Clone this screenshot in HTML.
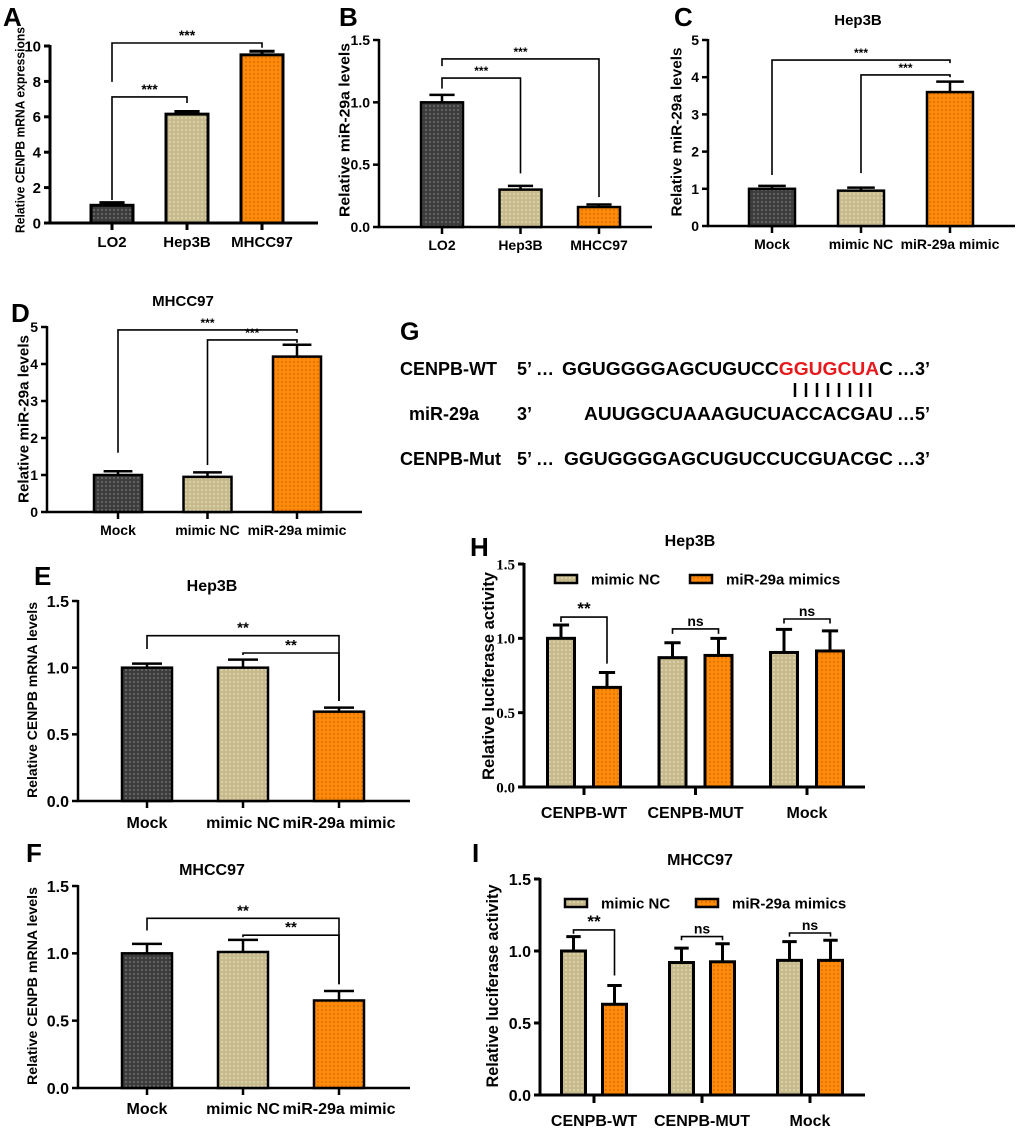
<!DOCTYPE html>
<html><head><meta charset="utf-8"><style>
html,body{margin:0;padding:0;background:#fff;}
svg{display:block;font-family:"Liberation Sans",Arial,sans-serif;font-weight:bold;}
</style></head><body>
<svg id="fig" width="1020" height="1132" viewBox="0 0 1020 1132" xmlns="http://www.w3.org/2000/svg">
<defs>
<pattern id="pDark" width="4" height="4" patternUnits="userSpaceOnUse"><rect width="4" height="4" fill="#3d3d3d"/><circle cx="2" cy="2" r="0.7" fill="#9a9a9a"/></pattern>
<pattern id="pKhaki" width="4" height="4" patternUnits="userSpaceOnUse"><rect width="4" height="4" fill="#c8bb8b"/><circle cx="2" cy="2" r="0.7" fill="#f2eee0"/></pattern>
<pattern id="pOrange" width="4" height="4" patternUnits="userSpaceOnUse"><rect width="4" height="4" fill="#ff8a0a"/><circle cx="2" cy="2" r="0.7" fill="#b85c00"/></pattern>
</defs>
<g id="seq" font-size="18">
<text x="400" y="340" font-size="25">G</text>
<text x="400" y="375">CENPB-WT</text>
<text x="517" y="375">5’ …</text>
<text x="562" y="375" textLength="331" lengthAdjust="spacingAndGlyphs">GGUGGGGAGCUGUCC<tspan fill="#e8191c">GGUGCUA</tspan>C</text>
<text x="897" y="375">…3’</text>
<g stroke="#000" stroke-width="2.5">
<line x1="795" y1="383" x2="795" y2="397"/><line x1="806" y1="383" x2="806" y2="397"/><line x1="817" y1="383" x2="817" y2="397"/><line x1="828" y1="383" x2="828" y2="397"/><line x1="839" y1="383" x2="839" y2="397"/><line x1="850" y1="383" x2="850" y2="397"/><line x1="861" y1="383" x2="861" y2="397"/><line x1="870" y1="383" x2="870" y2="397"/>
</g>
<text x="409" y="420">miR-29a</text>
<text x="517" y="420">3’</text>
<text x="584" y="420" textLength="309" lengthAdjust="spacingAndGlyphs">AUUGGCUAAAGUCUACCACGAU</text>
<text x="897" y="420">…5’</text>
<text x="400" y="465">CENPB-Mut</text>
<text x="517" y="465">5’ …</text>
<text x="564" y="465" textLength="329" lengthAdjust="spacingAndGlyphs">GGUGGGGAGCUGUCCUCGUACGC</text>
<text x="897" y="465">…3’</text>
</g>
</svg>
<script>
// ---- data ----
const catsAB = ["LO2", "Hep3B", "MHCC97"];
const catsMock = ["Mock", "mimic NC", "miR-29a mimic"];
const catsLuc = ["CENPB-WT", "CENPB-MUT", "Mock"];
const seriesLuc = ["mimic NC", "miR-29a mimics"];
const valsA = [1.0, 6.15, 9.5];      const errsA = [1.15, 6.3, 9.7];
const valsB = [1.0, 0.30, 0.16];     const errsB = [1.06, 0.33, 0.18];
const valsC = [1.0, 0.95, 3.6];      const errsC = [1.08, 1.03, 3.88];
const valsD = [1.0, 0.95, 4.2];      const errsD = [1.1, 1.07, 4.52];
const valsE = [1.0, 1.0, 0.67];      const errsE = [1.03, 1.06, 0.70];
const valsF = [1.0, 1.01, 0.65];     const errsF = [1.07, 1.10, 0.72];
const valsH_NC = [1.0, 0.87, 0.905]; const errsH_NC = [1.09, 0.97, 1.06];
const valsH_M = [0.67, 0.885, 0.915];const errsH_M = [0.77, 1.0, 1.05];
const valsI_NC = [1.0, 0.92, 0.935]; const errsI_NC = [1.10, 1.02, 1.065];
const valsI_M = [0.63, 0.925, 0.935];const errsI_M = [0.76, 1.05, 1.075];
const ticksA = [0, 2, 4, 6, 8, 10];
const ticks15 = [0, 0.5, 1.0, 1.5];
const ticks5 = [0, 1, 2, 3, 4, 5];

const NS = "http://www.w3.org/2000/svg";
const svg = document.getElementById("fig");
function mk(tag, attrs, parent) {
  const e = document.createElementNS(NS, tag);
  for (const k in attrs) e.setAttribute(k, attrs[k]);
  (parent || svg).appendChild(e);
  return e;
}
const fillsSimple = ["url(#pDark)", "url(#pKhaki)", "url(#pOrange)"];
const fillsLuc = ["url(#pKhaki)", "url(#pOrange)"];

function drawAxes(p, g, ticks, fmt) {
  const y = v => p.bot - v / p.max * (p.bot - p.top);
  const ax = mk("path", {d: `M${p.x0} ${p.top - 1}V${p.bot}H${p.x1}`, fill: "none", stroke: "#000", "stroke-width": p.sw}, g);
  
  
  ticks.forEach(t => {
    const tl = mk("line", {x1: p.x0 - 6, x2: p.x0, y1: y(t), y2: y(t), stroke: "#000", "stroke-width": p.sw}, g);
    
    
    const tx = mk("text", {x: p.x0 - 9, y: y(t) + p.tf * 0.36, "text-anchor": "end", "font-size": p.tf, "font-family": p.serif ? '"Liberation Serif",serif' : '"Liberation Sans",sans-serif'}, g);
    tx.textContent = fmt(t);
    
    
  });
  return y;
}
function bar(g, cx, w, yv, ye, ybot, fill, sw) {
  const r = mk("rect", {x: cx - w / 2, y: yv, width: w, height: ybot - yv, fill: fill, stroke: "#000", "stroke-width": sw}, g);
  
  
  const e = mk("path", {d: `M${cx} ${yv}V${ye}M${cx - w * 0.3} ${ye}H${cx + w * 0.3}`, stroke: "#000", "stroke-width": sw, fill: "none"}, g);
  
  
}
function bracket(g, y, xa, xb, b, fs) {
  const d = `M${xa} ${y(b[2])}V${y(b[1])}H${xb}V${y(b[3])}`;
  const pth = mk("path", {d: d, stroke: "#000", "stroke-width": 1.6, fill: "none"}, g);
  
  
  const t = mk("text", {x: (xa + xb) / 2, y: y(b[1]) - 3, "text-anchor": "middle", "font-size": fs}, g);
  t.textContent = b[4];
  
  
}
function label(g, txt, x, y, fs, name, extra) {
  const t = mk("text", Object.assign({x: x, y: y, "font-size": fs}, extra || {}), g);
  t.textContent = txt;
  
  
  return t;
}
function ytitle(g, txt, cx, cy, len, fs) {
  const t = mk("text", {x: 0, y: 0, "text-anchor": "middle", "font-size": fs, transform: `translate(${cx + fs * 0.36},${cy}) rotate(-90)`, textLength: len, lengthAdjust: "spacingAndGlyphs"}, g);
  t.textContent = txt;
  
  
}

function simplePanel(p, cats, vals, errs, ticks, fmt, brs) {
  const g = mk("g");
  
  
  const y = drawAxes(p, g, ticks, fmt);
  const cx = i => p.x0 + p.off + i * p.step;
  cats.forEach((c, i) => {
    bar(g, cx(i), p.bw, y(vals[i]), y(errs[i]), p.bot, fillsSimple[i], p.sw);
    const tk = mk("line", {x1: cx(i), x2: cx(i), y1: p.bot, y2: p.bot + 7, stroke: "#000", "stroke-width": p.sw}, g);
    
    
    label(g, c, cx(i), p.bot + p.xly, p.xf, "x-tick-label", {"text-anchor": "middle"});
  });
  brs.forEach(b => bracket(g, y, cx(b[0]), cx(b[5]), [b[0], b[1], b[2], b[3], b[4]], p.sf));
  return g;
}
function groupedPanel(p, cats, v1, e1, v2, e2, fmt, brs) {
  const g = mk("g");
  
  
  const y = drawAxes(p, g, ticks15, fmt);
  const gx = i => p.x0 + p.off + i * p.step;
  const bx = (i, s) => gx(i) + (s ? p.half : -p.half);
  cats.forEach((c, i) => {
    bar(g, bx(i, 0), p.bw, y(v1[i]), y(e1[i]), p.bot, fillsLuc[0], p.sw);
    bar(g, bx(i, 1), p.bw, y(v2[i]), y(e2[i]), p.bot, fillsLuc[1], p.sw);
    const tk = mk("line", {x1: gx(i), x2: gx(i), y1: p.bot, y2: p.bot + 8, stroke: "#000", "stroke-width": p.sw}, g);
    
    
    label(g, c, gx(i), p.bot + p.xly, p.xf, "x-tick-label", {"text-anchor": "middle"});
  });
  brs.forEach(b => bracket(g, y, bx(b[0], 0), bx(b[0], 1), b, b[4] === "ns" ? p.sf : p.sf + 3));
  // legend
  seriesLuc.forEach((s, k) => {
    const lx = p.legX[k];
    const sw = mk("rect", {x: lx, y: p.legY - 4, width: 22, height: 8, fill: fillsLuc[k], stroke: "#000", "stroke-width": 2.5}, g);
    
    
    label(g, s, lx + 36, p.legY + 5.5, 15, "legend-entry");
  });
  return g;
}

// bracket format: [barIndexA, yValue, leftEndValue, rightEndValue, text, barIndexB]
const gA = simplePanel({name:"panel-a", x0:50, x1:318, top:46, bot:223, max:10, off:62, step:75, bw:42, sw:3, tf:15, xf:15, xly:24, sf:14},
  catsAB, valsA, errsA, ticksA, t => String(t),
  [[0, 10.17, 7.97, 9.9, "***", 2], [0, 7.12, 1.3, 6.78, "***", 1]]);
const gB = simplePanel({name:"panel-b", x0:379, x1:652, top:40, bot:227, max:1.5, off:63, step:78.5, bw:42, sw:2.5, tf:14, xf:14, xly:23, sf:12},
  catsAB, valsB, errsB, ticks15, t => t.toFixed(1),
  [[0, 1.348, 1.29, 0.24, "***", 2], [0, 1.195, 1.11, 0.43, "***", 1]]);
const gC = simplePanel({name:"panel-c", x0:708, x1:1015, top:40, bot:226, max:5, off:64, step:89, bw:46, sw:2.5, tf:14, xf:14, xly:23, sf:12},
  catsMock, valsC, errsC, ticks5, t => String(t),
  [[0, 4.46, 1.37, 4.38, "***", 2], [1, 4.06, 1.42, 4.0, "***", 2]]);
const gD = simplePanel({name:"panel-d", x0:47, x1:362, top:327, bot:512, max:5, off:71, step:89.5, bw:48, sw:2.5, tf:14, xf:14, xly:23, sf:12},
  catsMock, valsD, errsD, ticks5, t => String(t),
  [[0, 4.92, 1.6, 4.84, "***", 2], [1, 4.65, 1.27, 4.57, "***", 2]]);
const gE = simplePanel({name:"panel-e", x0:78, x1:410, top:601, bot:801, max:1.5, off:69, step:96, bw:50, sw:2.5, tf:16, xf:16, xly:27, sf:15},
  catsMock, valsE, errsE, ticks15, t => t.toFixed(1),
  [[0, 1.24, 1.14, 0.75, "**", 2], [1, 1.11, 1.095, 0.75, "**", 2]]);
const gF = simplePanel({name:"panel-f", x0:78, x1:410, top:886, bot:1088, max:1.5, off:69, step:96, bw:50, sw:2.5, tf:16, xf:16, xly:26, sf:15},
  catsMock, valsF, errsF, ticks15, t => t.toFixed(1),
  [[0, 1.26, 1.17, 0.77, "**", 2], [1, 1.135, 1.12, 0.77, "**", 2]]);
const gH = groupedPanel({name:"panel-h", x0:524, x1:865, top:564, bot:787, max:1.5, off:60, step:111.5, half:23, bw:27, sw:3, tf:15, serif:true, xf:16, xly:31, sf:14, legX:[555, 690], legY:579},
  catsLuc, valsH_NC, errsH_NC, valsH_M, errsH_M, t => t.toFixed(1),
  [[0, 1.143, 1.11, 0.83, "**"], [1, 1.063, 1.03, 1.03, "ns"], [2, 1.13, 1.10, 1.10, "ns"]]);
const gI = groupedPanel({name:"panel-i", x0:540, x1:865, top:879, bot:1095, max:1.5, off:54, step:108, half:20.5, bw:24, sw:3, tf:16, xf:16, xly:31, sf:14, legX:[565, 696], legY:903},
  catsLuc, valsI_NC, errsI_NC, valsI_M, errsI_M, t => t.toFixed(1),
  [[0, 1.146, 1.12, 0.83, "**"], [1, 1.10, 1.075, 1.075, "ns"], [2, 1.125, 1.10, 1.10, "ns"]]);

// panel letters, titles, axis titles
label(gA, "A", 3, 26, 26, "panel-label-a");
label(gB, "B", 339, 26, 26, "panel-label-b");
label(gC, "C", 674, 26, 26, "panel-label-c");
label(gD, "D", 11, 322, 26, "panel-label-d");
label(gE, "E", 34, 585, 26, "panel-label-e");
label(gF, "F", 26, 862, 26, "panel-label-f");
label(gH, "H", 470, 556, 26, "panel-label-h");
label(gI, "I", 472, 862, 26, "panel-label-i");
label(gC, "Hep3B", 858, 25, 15, "chart-title", {"text-anchor": "middle"});
label(gD, "MHCC97", 183, 306, 15, "chart-title", {"text-anchor": "middle"});
label(gE, "Hep3B", 212, 591, 16, "chart-title", {"text-anchor": "middle"});
label(gF, "MHCC97", 212, 875, 16, "chart-title", {"text-anchor": "middle"});
label(gH, "Hep3B", 690, 546, 16, "chart-title", {"text-anchor": "middle"});
label(gI, "MHCC97", 700, 865, 16, "chart-title", {"text-anchor": "middle"});
ytitle(gA, "Relative CENPB mRNA expressions", 20, 130, 206, 13);
ytitle(gB, "Relative miR-29a levels", 344, 130, 174, 15);
ytitle(gC, "Relative miR-29a levels", 676, 132, 169, 15);
ytitle(gD, "Relative miR-29a levels", 23, 419, 168, 15);
ytitle(gE, "Relative CENPB mRNA levels", 32, 700, 196, 14);
ytitle(gF, "Relative CENPB mRNA levels", 32, 986, 198, 14);
ytitle(gH, "Relative luciferase activity", 488, 676, 208, 17);
ytitle(gI, "Relative luciferase activity", 492, 986, 203, 17);
</script>
</body></html>
